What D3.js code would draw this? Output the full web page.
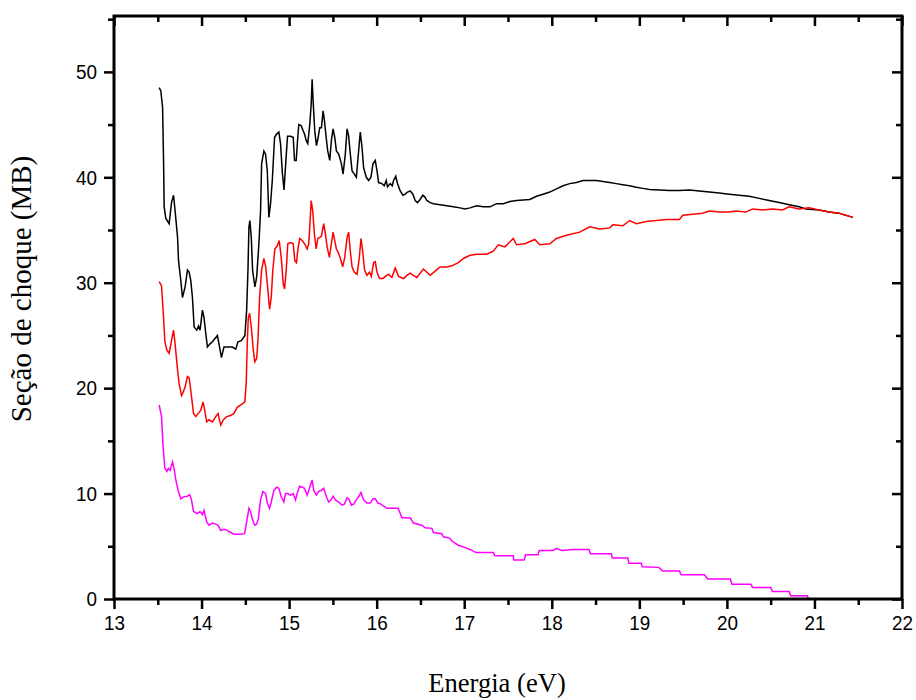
<!DOCTYPE html>
<html>
<head>
<meta charset="utf-8">
<script src="https://cdn.jsdelivr.net/npm/d3@7"></script>
<style>
  html, body { margin: 0; padding: 0; background: #fff; }
  svg { display: block; }
</style>
</head>
<body>
<svg id="chart" width="916" height="700"></svg>
<script>
// Energy (eV) and cross-section (MB) samples for each curve
const blackE = [13.516,13.535,13.555,13.566,13.573,13.592,13.630,13.657,13.680,13.698,13.726,13.737,13.763,13.782,13.812,13.839,13.858,13.877,13.896,13.915,13.945,13.965,13.983,14.010,14.028,14.048,14.067,14.097,14.124,14.181,14.199,14.227,14.256,14.295,14.352,14.390,14.416,14.454,14.495,14.515,14.530,14.541,14.552,14.568,14.583,14.609,14.629,14.655,14.674,14.686,14.712,14.731,14.751,14.769,14.788,14.808,14.834,14.857,14.883,14.902,14.922,14.942,14.961,14.982,15.016,15.047,15.062,15.081,15.099,15.111,15.138,15.161,15.176,15.195,15.213,15.236,15.252,15.263,15.275,15.293,15.312,15.332,15.350,15.369,15.388,15.403,15.423,15.441,15.464,15.483,15.502,15.521,15.540,15.566,15.597,15.616,15.642,15.662,15.680,15.699,15.719,15.745,15.768,15.794,15.813,15.833,15.851,15.882,15.908,15.935,15.958,15.984,16.004,16.022,16.060,16.087,16.109,16.124,16.155,16.178,16.193,16.218,16.238,16.269,16.300,16.326,16.352,16.383,16.414,16.440,16.466,16.497,16.527,16.554,16.573,16.611,16.648,16.724,16.801,16.876,16.952,17.009,17.066,17.142,17.218,17.294,17.370,17.446,17.522,17.598,17.673,17.749,17.826,17.901,17.977,18.054,18.129,18.205,18.281,18.357,18.433,18.509,18.584,18.661,18.737,18.812,18.888,18.965,19.040,19.116,19.230,19.344,19.458,19.572,19.686,19.800,19.913,20.027,20.139,20.255,20.369,20.483,20.597,20.711,20.825,20.901,21.053,21.167,21.279,21.440];
const blackV = [48.5,48.2,46.6,41.6,37.2,36.1,35.6,37.6,38.3,36.8,34.3,32.1,30.2,28.6,29.6,31.2,31.0,30.2,28.6,25.8,25.5,25.9,25.5,27.4,26.7,25.2,23.9,24.2,24.4,25.0,24.2,22.9,23.9,23.9,23.9,23.7,24.4,24.5,25.0,27.4,31.2,35.3,35.9,34.3,31.2,29.6,30.5,33.7,36.8,41.3,42.5,42.2,40.6,36.2,37.5,39.7,43.8,44.1,44.3,43.2,40.5,38.8,41.3,43.9,43.9,43.8,41.6,41.6,43.8,45.0,44.9,44.4,44.1,43.5,43.2,45.0,46.9,49.3,47.1,44.4,43.0,43.8,44.7,44.7,46.3,45.4,43.8,42.5,41.6,43.5,44.6,43.8,42.5,42.2,41.3,40.3,42.2,44.6,43.9,42.2,40.6,40.3,40.0,42.5,44.3,42.8,40.9,40.0,39.7,40.0,41.3,41.6,40.6,39.5,39.4,39.2,39.7,39.1,39.4,39.2,39.7,40.1,39.4,38.7,38.3,38.4,38.6,38.7,38.4,37.8,37.6,37.9,38.3,38.1,37.8,37.6,37.5,37.4,37.3,37.2,37.1,37.0,37.1,37.3,37.2,37.2,37.5,37.5,37.7,37.8,37.85,37.9,38.2,38.4,38.6,38.9,39.2,39.4,39.5,39.7,39.7,39.7,39.6,39.5,39.4,39.3,39.2,39.05,38.95,38.85,38.8,38.75,38.75,38.8,38.7,38.6,38.5,38.4,38.3,38.2,38.0,37.8,37.6,37.4,37.2,37.0,36.9,36.7,36.6,36.2];

const redE = [13.516,13.543,13.566,13.581,13.604,13.630,13.657,13.680,13.698,13.726,13.744,13.771,13.789,13.812,13.839,13.858,13.877,13.908,13.934,13.972,13.991,14.017,14.036,14.059,14.085,14.124,14.162,14.188,14.219,14.249,14.287,14.333,14.370,14.409,14.446,14.495,14.511,14.523,14.534,14.549,14.568,14.591,14.609,14.629,14.644,14.663,14.686,14.712,14.731,14.751,14.777,14.796,14.814,14.837,14.865,14.887,14.910,14.933,14.948,14.967,14.985,15.016,15.047,15.065,15.084,15.104,15.122,15.149,15.176,15.206,15.224,15.236,15.252,15.270,15.289,15.309,15.327,15.350,15.369,15.395,15.415,15.434,15.460,15.483,15.502,15.521,15.540,15.559,15.586,15.612,15.635,15.662,15.680,15.699,15.719,15.745,15.776,15.802,15.821,15.840,15.862,15.889,15.919,15.939,15.965,15.984,16.004,16.033,16.072,16.098,16.136,16.174,16.212,16.250,16.307,16.345,16.383,16.420,16.459,16.534,16.573,16.611,16.668,16.724,16.801,16.858,16.933,16.990,17.066,17.142,17.256,17.332,17.389,17.465,17.560,17.598,17.692,17.806,17.863,17.977,18.054,18.168,18.319,18.433,18.547,18.661,18.698,18.812,18.888,18.965,19.079,19.193,19.307,19.458,19.496,19.610,19.723,19.800,19.913,20.027,20.102,20.217,20.293,20.407,20.521,20.635,20.711,20.825,20.939,21.053,21.167,21.279,21.356,21.440];
const redV = [30.1,29.7,26.7,24.4,23.6,23.3,24.5,25.5,24.2,21.7,20.4,19.3,19.6,20.1,21.1,21.0,19.8,17.6,17.3,17.7,17.9,18.7,17.9,16.8,17.0,16.8,17.3,17.6,16.5,17.0,17.3,17.4,17.6,18.2,18.4,18.7,20.7,24.5,26.7,27.1,25.8,23.6,22.5,22.8,24.5,28.6,31.2,32.3,31.6,29.9,27.5,28.6,31.2,33.2,33.5,34.0,32.4,29.9,29.4,31.2,33.7,33.8,33.7,32.1,31.9,33.4,34.2,34.0,33.7,33.2,33.7,35.3,37.8,36.8,34.6,33.2,34.2,34.3,34.4,35.6,34.6,33.4,32.4,33.7,34.8,34.0,33.2,32.9,32.3,31.5,32.4,34.3,34.8,33.0,31.5,31.0,30.8,32.4,34.2,33.0,31.2,30.7,31.0,30.6,31.9,32.0,31.0,30.4,30.4,30.6,30.8,30.5,31.4,30.6,30.4,30.7,30.9,30.7,30.5,31.3,31.0,30.7,31.1,31.5,31.5,31.6,31.9,32.3,32.6,32.7,32.7,33.0,33.6,33.4,34.2,33.6,33.7,34.1,33.6,33.7,34.2,34.5,34.8,35.3,35.1,35.2,35.5,35.4,35.9,35.6,35.8,35.9,36.0,36.0,36.4,36.5,36.6,36.8,36.7,36.7,36.8,36.7,37.0,36.9,37.0,36.9,37.2,37.0,37.1,36.9,36.7,36.6,36.4,36.2];

const magentaE = [13.516,13.543,13.561,13.581,13.604,13.622,13.641,13.668,13.686,13.706,13.732,13.763,13.801,13.839,13.866,13.885,13.908,13.953,13.983,14.010,14.028,14.059,14.085,14.124,14.162,14.188,14.219,14.249,14.276,14.313,14.370,14.446,14.492,14.515,14.541,14.560,14.580,14.606,14.629,14.648,14.674,14.700,14.731,14.751,14.777,14.796,14.826,14.857,14.883,14.910,14.940,14.959,14.985,15.016,15.047,15.073,15.092,15.119,15.149,15.176,15.206,15.224,15.244,15.263,15.281,15.312,15.338,15.366,15.395,15.426,15.452,15.479,15.502,15.528,15.566,15.605,15.631,15.662,15.688,15.711,15.737,15.768,15.794,15.821,15.851,15.889,15.927,15.958,15.984,16.015,16.049,16.079,16.117,16.212,16.246,16.288,16.383,16.420,16.516,16.554,16.630,16.648,16.744,16.762,16.838,16.858,16.933,17.021,17.066,17.135,17.332,17.351,17.560,17.567,17.685,17.701,17.844,17.856,18.015,18.054,18.111,18.243,18.425,18.441,18.680,18.691,18.869,18.880,19.022,19.033,19.222,19.268,19.458,19.478,19.743,19.781,20.039,20.058,20.274,20.293,20.501,20.519,20.711,20.730,20.919,20.930,21.440];
const magentaV = [18.4,17.3,14.4,12.4,12.1,12.4,12.2,13.0,12.4,11.3,10.3,9.5,9.7,9.75,9.9,9.4,8.3,8.1,8.3,8.0,8.4,7.3,7.0,7.2,7.1,7.0,6.5,6.6,6.6,6.4,6.15,6.15,6.2,7.3,8.6,8.3,7.6,7.0,7.1,7.6,9.4,10.2,10.0,9.1,8.6,9.2,10.3,10.6,10.5,9.7,9.2,10.0,10.0,9.85,10.0,9.4,10.0,10.7,10.6,10.5,9.85,10.3,10.8,11.3,10.3,9.85,10.2,10.3,10.5,9.7,9.2,9.4,9.75,9.4,9.2,8.9,9.0,9.6,9.4,8.9,9.0,9.4,9.7,10.1,9.4,9.1,9.1,9.5,9.5,9.1,9.0,8.8,8.6,8.6,8.6,7.7,7.7,7.2,7.0,6.75,6.7,6.3,6.2,5.9,5.75,5.5,5.1,4.85,4.7,4.4,4.4,4.1,4.1,3.7,3.7,4.2,4.2,4.6,4.6,4.8,4.6,4.7,4.7,4.3,4.3,3.9,3.9,3.4,3.4,3.05,3.0,2.65,2.65,2.3,2.3,1.9,1.9,1.4,1.4,1.1,1.1,0.7,0.7,0.3,0.3,0.0,0.0];

// Axis ticks
const xMajorTicks = [13, 14, 15, 16, 17, 18, 19, 20, 21, 22];
const xMinorTicks = [13.5, 14.5, 15.5, 16.5, 17.5, 18.5, 19.5, 20.5, 21.5];
const yMajorTicks = [0, 10, 20, 30, 40, 50];
const yMinorTicks = [5, 15, 25, 35, 45, 55];

const xTitle = "Energia (eV)";
const yTitle = "Seção de choque (MB)";

const svg = d3.select("#chart");
const plot = { left: 114, right: 902, top: 16, bottom: 599 };

const x = d3.scaleLinear().domain([13, 22]).range([plot.left, plot.right]);
const y = d3.scaleLinear().domain([0, 55.3]).range([plot.bottom, plot.top]);

const series = [
  { E: blackE, V: blackV, color: "#000000" },
  { E: magentaE, V: magentaV, color: "#ff00ff" },
  { E: redE, V: redV, color: "#ff0000" }
];

const line = d3.line().x(d => x(d[0])).y(d => y(d[1]));

series.forEach(s => {
  const pts = s.E.map((e, i) => [e, s.V[i]]);
  svg.append("path")
    .datum(pts)
    .attr("fill", "none")
    .attr("stroke", s.color)
    .attr("stroke-width", 1.5)
    .attr("stroke-linejoin", "miter")
    .attr("d", line);
});

const tickFont = "'Liberation Sans', Arial, sans-serif";
const squeeze = 0.9; // slightly narrow tick numerals

function styleAxis(g) {
  g.attr("font-size", null);
  g.select(".domain").remove();
  g.selectAll(".tick line").attr("stroke", "#000").attr("stroke-width", 2.5);
  g.selectAll(".tick text")
    .attr("fill", "#000")
    .style("font-family", tickFont)
    .style("font-size", "21px")
    .each(function () {
      const t = d3.select(this);
      const x0 = +t.attr("x") || 0;
      t.attr("x", x0 / squeeze).attr("transform", `scale(${squeeze},1)`);
    });
}

// Bottom axis: outward ticks with labels
svg.append("g")
  .attr("transform", `translate(0,${plot.bottom})`)
  .call(d3.axisBottom(x).tickValues(xMajorTicks).tickSize(10).tickPadding(6).tickFormat(d3.format("d")))
  .call(styleAxis);
svg.append("g")
  .attr("transform", `translate(0,${plot.bottom})`)
  .call(d3.axisBottom(x).tickValues(xMinorTicks).tickSize(6).tickFormat(""))
  .call(styleAxis);

// Top axis: inward ticks, no labels
svg.append("g")
  .attr("transform", `translate(0,${plot.top})`)
  .call(d3.axisTop(x).tickValues(xMajorTicks).tickSize(-10).tickFormat(""))
  .call(styleAxis);
svg.append("g")
  .attr("transform", `translate(0,${plot.top})`)
  .call(d3.axisTop(x).tickValues(xMinorTicks).tickSize(-6).tickFormat(""))
  .call(styleAxis);

// Left axis: outward ticks with labels
svg.append("g")
  .attr("transform", `translate(${plot.left},0)`)
  .call(d3.axisLeft(y).tickValues(yMajorTicks).tickSize(10).tickPadding(7).tickFormat(d3.format("d")))
  .call(styleAxis);
svg.append("g")
  .attr("transform", `translate(${plot.left},0)`)
  .call(d3.axisLeft(y).tickValues(yMinorTicks).tickSize(6).tickFormat(""))
  .call(styleAxis);

// Right axis: inward ticks, no labels
svg.append("g")
  .attr("transform", `translate(${plot.right},0)`)
  .call(d3.axisRight(y).tickValues(yMajorTicks).tickSize(-10).tickFormat(""))
  .call(styleAxis);
svg.append("g")
  .attr("transform", `translate(${plot.right},0)`)
  .call(d3.axisRight(y).tickValues(yMinorTicks).tickSize(-6).tickFormat(""))
  .call(styleAxis);

// Frame
svg.append("rect")
  .attr("x", plot.left)
  .attr("y", plot.top)
  .attr("width", plot.right - plot.left)
  .attr("height", plot.bottom - plot.top)
  .attr("fill", "none")
  .attr("stroke", "#000")
  .attr("stroke-width", 3);

// Axis titles
const titleFont = "'Liberation Serif', 'Times New Roman', serif";
svg.append("text")
  .attr("transform", "translate(497,692) scale(0.95,1)")
  .attr("text-anchor", "middle")
  .style("font-family", titleFont)
  .style("font-size", "28px")
  .text(xTitle);

svg.append("text")
  .attr("transform", "translate(31,289) rotate(-90)")
  .attr("text-anchor", "middle")
  .style("font-family", titleFont)
  .style("font-size", "29px")
  .text(yTitle);
</script>
</body>
</html>
